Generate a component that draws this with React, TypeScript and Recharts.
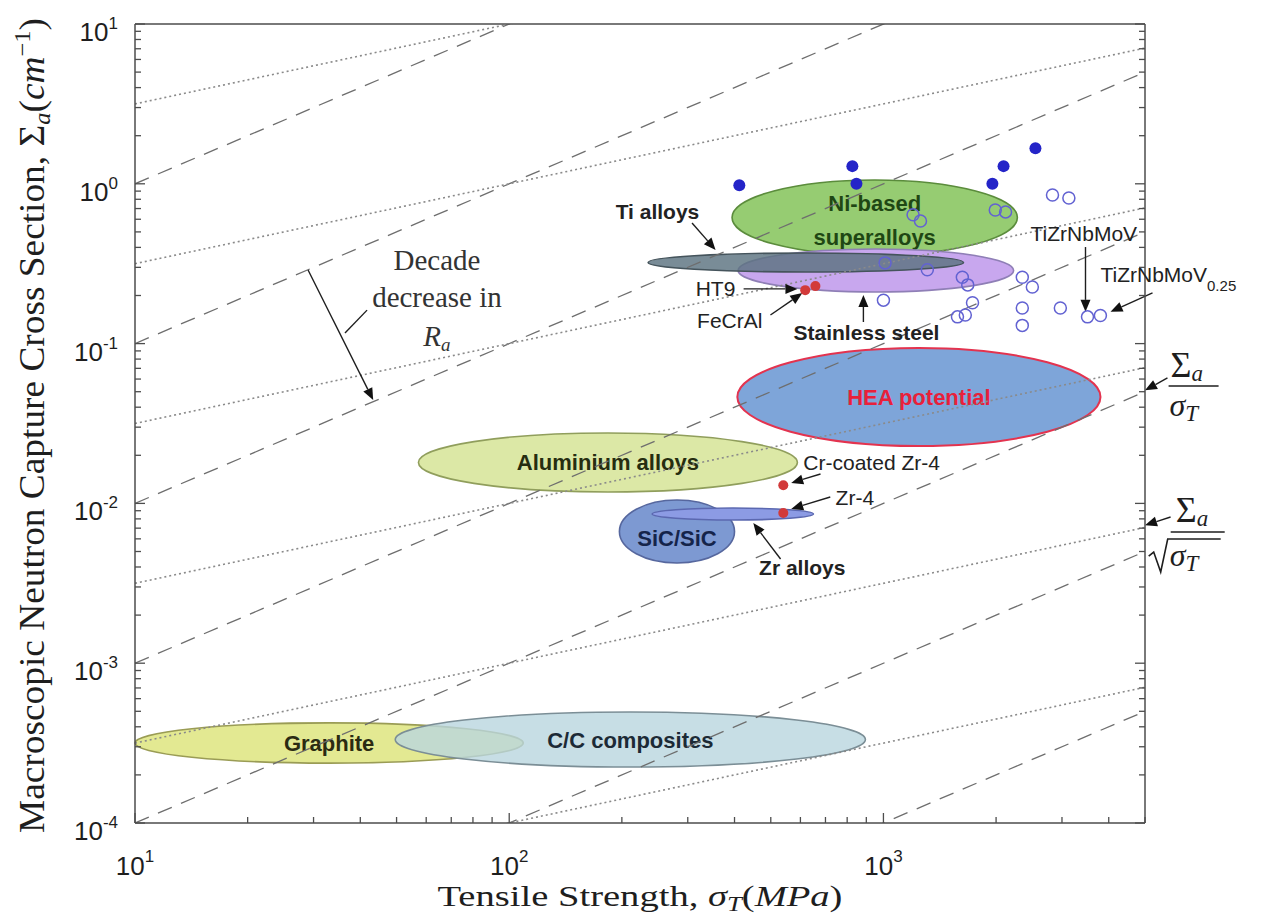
import React from 'react';
import { ComposedChart, Scatter, XAxis, YAxis, ReferenceLine, ReferenceArea, ReferenceDot } from 'recharts';

// ---- data (data units) ----
const filledPoints = [
  { x: 412, y: 0.98 }, { x: 826, y: 1.29 }, { x: 847, y: 1.0 },
  { x: 1955, y: 1.0 }, { x: 2094, y: 1.29 }, { x: 2548, y: 1.67 },
];

const openPoints = [
  { x: 2830, y: 0.85 }, { x: 3130, y: 0.815 }, { x: 1200, y: 0.64 }, { x: 1256, y: 0.585 },
  { x: 1990, y: 0.686 }, { x: 2120, y: 0.667 }, { x: 1010, y: 0.32 }, { x: 1310, y: 0.29 },
  { x: 1625, y: 0.26 }, { x: 1680, y: 0.233 }, { x: 2350, y: 0.26 }, { x: 2500, y: 0.226 },
  { x: 1000, y: 0.187 }, { x: 1730, y: 0.18 }, { x: 1655, y: 0.151 }, { x: 1577, y: 0.147 },
  { x: 2350, y: 0.167 }, { x: 2350, y: 0.13 }, { x: 2970, y: 0.167 }, { x: 3510, y: 0.147 },
  { x: 3800, y: 0.15 },
];

const redPoints = [
  { x: 618, y: 0.216 }, { x: 658, y: 0.229 }, { x: 540, y: 0.013 }, { x: 540, y: 0.0087 },
];

const regions = [
  { name: 'Graphite', x: [10, 109], y: [2.37e-4, 4.23e-4] },
  { name: 'C/C composites', x: [49.6, 895], y: [2.24e-4, 4.95e-4] },
  { name: 'Aluminium alloys', x: [57.2, 589], y: [0.01178, 0.0276] },
  { name: 'SiC/SiC', x: [197, 400], y: [0.00424, 0.0105] },
  { name: 'Zr alloys', x: [241, 650], y: [0.00787, 0.00935] },
  { name: 'HEA potential', x: [407, 3802], y: [0.02286, 0.0939] },
  { name: 'Ni-based superalloys', x: [394, 2280], y: [0.358, 1.057] },
  { name: 'Stainless steel', x: [409, 2228], y: [0.2105, 0.391] },
  { name: 'Ti alloys', x: [235, 1637], y: [0.2805, 0.369] },
];

// constant Σa/σT (dashed) and Σa/√σT (dotted) levels
const ratioLevels = [0.1, 0.01, 1e-3, 1e-4, 1e-5, 1e-6, 1e-7];
const rootLevels = [1, 0.1, 0.01, 1e-3, 1e-4, 1e-5];

const notes = [
  { text: 'Ti alloys', x: 249, y: 0.602, anchor: 'middle', bold: true },
  { text: 'HT9', x: 402, y: 0.1986, anchor: 'end', bold: false },
  { text: 'FeCrAl', x: 475, y: 0.1253, anchor: 'end', bold: false },
  { text: 'Stainless steel', x: 901, y: 0.1053, anchor: 'middle', bold: true },
  { text: 'TiZrNbMoV', x: 2472, y: 0.4386, anchor: 'start', bold: false },
  { text: 'TiZrNbMoV', sub: '0.25', x: 3802, y: 0.2429, anchor: 'start', bold: false },
  { text: 'Cr-coated Zr-4', x: 611, y: 0.01618, anchor: 'start', bold: false },
  { text: 'Zr-4', x: 745, y: 0.00977, anchor: 'start', bold: false },
  { text: 'Zr alloys', x: 607, y: 0.00356, anchor: 'middle', bold: true },
];

const arrows = [
  { from: [308, 0.569], to: [356, 0.3855] },
  { from: [423, 0.22], to: [589, 0.22] },
  { from: [499, 0.151], to: [607, 0.2074] },
  { from: [884, 0.1365], to: [884, 0.2014] },
  { from: [3467, 0.402], to: [3467, 0.158] },
  { from: [5237, 0.2074], to: [4045, 0.158] },
  { from: [679, 0.01528], to: [567, 0.01343] },
  { from: [721, 0.01097], to: [567, 0.00923] },
  { from: [531, 0.00449], to: [449, 0.00753] },
  { from: [29.0, 0.289], to: [43.3, 0.0443] },
  { from: [5741, 0.061], to: [5000, 0.051] },
  { from: [5852, 0.00822], to: [5000, 0.0073] },
];
const connectors = [{ from: [36.4, 0.1164], to: [41.7, 0.162] }];

const decadeNote = { x: 64.1, y: 0.289 };
const ratioLabel = { x: 5781, y: 0.0543 };
const rootLabel = { x: 5929, y: 0.00662 };

const mult = [1, 2, 3, 4, 5, 6, 7, 8, 9];
const xTicks = [...[1, 2].flatMap((e) => mult.map((m) => m * 10 ** e)), 1000, 2000, 3000, 4000, 5000];
const yTicks = [...[-4, -3, -2, -1, 0].flatMap((e) => mult.map((m) => m * 10 ** e)), 10];

// ---- styles ----
const SANS = '"Liberation Sans", Arial, Helvetica, sans-serif';
const SERIF = '"Liberation Serif", "Times New Roman", serif';
const AXIS = '#4d4d4d';
const INK = '#1e1e1e';

const regionStyle: Record<string, any> = {
  'Graphite': { fill: '#e2e88c', stroke: '#9a9c55', op: 0.95, lines: ['Graphite'], color: '#2b2b12' },
  'C/C composites': { fill: '#b9d6df', stroke: '#7b8e96', op: 0.8, lines: ['C/C composites'], color: '#1c2a36' },
  'Aluminium alloys': { fill: '#dce8a6', stroke: '#909e5c', op: 1, lines: ['Aluminium alloys'], color: '#262d10' },
  'SiC/SiC': { fill: '#7d99d2', stroke: '#56679e', op: 1, lines: ['SiC/SiC'], color: '#15244a', dy: 7 },
  'Zr alloys': { fill: '#8c9be4', stroke: '#5b68b0', op: 1, lines: [] },
  'HEA potential': { fill: '#7ea5d9', stroke: '#e3334f', op: 1, lines: ['HEA potential'], color: '#e8203a', sw: 2 },
  'Ni-based superalloys': { fill: '#96cc72', stroke: '#5b8c3c', op: 1, lines: ['Ni-based', 'superalloys'], color: '#1f4714', dy: 2 },
  'Stainless steel': { fill: '#c8a7ee', stroke: '#8f7fb6', op: 1, lines: [] },
  'Ti alloys': { fill: '#5c7380', stroke: '#45545c', op: 0.82, lines: [] },
};

const isMajor = (v: number) => Math.abs(Math.log10(v) - Math.round(Math.log10(v))) < 1e-6;
const expo = (v: number) => String(Math.round(Math.log10(v)));

const BottomTick = (p: any) => {
  const v = p.payload.value;
  const major = isMajor(v);
  return (
    <g>
      <line x1={p.x} x2={p.x} y1={p.y} y2={p.y - (major ? 10 : 6)} stroke={AXIS} strokeWidth={1.3} />
      {major && (
        <text x={p.x} y={p.y + 52} textAnchor="middle" fontFamily={SANS} fontSize={26} fill={INK}>
          10<tspan dy={-13} fontSize={17}>{expo(v)}</tspan>
        </text>
      )}
    </g>
  );
};

const TopTick = (p: any) => {
  const major = isMajor(p.payload.value);
  return <line x1={p.x} x2={p.x} y1={p.y} y2={p.y + (major ? 10 : 6)} stroke={AXIS} strokeWidth={1.3} />;
};

const LeftTick = (p: any) => {
  const v = p.payload.value;
  const major = isMajor(v);
  return (
    <g>
      <line x1={p.x} x2={p.x + (major ? 10 : 6)} y1={p.y} y2={p.y} stroke={AXIS} strokeWidth={1.3} />
      {major && (
        <text x={p.x - 17} y={p.y + 17} textAnchor="end" fontFamily={SANS} fontSize={26} fill={INK}>
          10<tspan dy={-12} fontSize={17}>{expo(v)}</tspan>
        </text>
      )}
    </g>
  );
};

const RightTick = (p: any) => {
  const major = isMajor(p.payload.value);
  return <line x1={p.x} x2={p.x - (major ? 10 : 6)} y1={p.y} y2={p.y} stroke={AXIS} strokeWidth={1.3} />;
};

const XTitle = (p: any) => {
  const vb = p.viewBox;
  return (
    <text x={vb.x + vb.width / 2} y={vb.y + 83} textAnchor="middle" fontFamily={SERIF} fontSize={29} fill={INK}
      textLength={405} lengthAdjust="spacingAndGlyphs">
      Tensile Strength, <tspan fontStyle="italic">σ</tspan>
      <tspan fontStyle="italic" fontSize={20} dy={5}>T</tspan>
      <tspan dy={-5}>(</tspan>
      <tspan fontStyle="italic">MPa</tspan>)
    </text>
  );
};

const YTitle = (p: any) => {
  const vb = p.viewBox;
  const cx = 44;
  const cy = vb.y + vb.height / 2 + 2;
  return (
    <text x={cx} y={cy} transform={`rotate(-90 ${cx} ${cy})`} textAnchor="middle" fontFamily={SERIF} fontSize={35} fill={INK}
      textLength={815} lengthAdjust="spacingAndGlyphs">
      Macroscopic Neutron Capture Cross Section, Σ
      <tspan fontStyle="italic" fontSize={23} dy={6}>a</tspan>
      <tspan dy={-6}>(</tspan>
      <tspan fontStyle="italic">cm</tspan>
      <tspan fontSize={23} dy={-14}>−1</tspan>
      <tspan dy={14}>)</tspan>
    </text>
  );
};

const ellipseShape = (name: string) => (p: any) => {
  const s = regionStyle[name];
  const cx = p.x + p.width / 2;
  const cy = p.y + p.height / 2;
  const n = s.lines.length;
  return (
    <g>
      <ellipse cx={cx} cy={cy} rx={p.width / 2} ry={p.height / 2} fill={s.fill} fillOpacity={s.op} stroke={s.stroke} strokeWidth={s.sw || 1.6} />
      {s.lines.map((t: string, i: number) => (
        <text key={t} x={cx} y={cy + 8 + (s.dy || 0) + (i - (n - 1) / 2) * 34} textAnchor="middle" fontFamily={SANS}
          fontWeight="bold" fontSize={22} fill={s.color}>
          {t}
        </text>
      ))}
    </g>
  );
};

const arrowShape = (p: any) => {
  const { x1, y1, x2, y2 } = p;
  const a = Math.atan2(y2 - y1, x2 - x1);
  const L = 12;
  const w = 5;
  const bx = x2 - L * Math.cos(a);
  const by = y2 - L * Math.sin(a);
  const nx = -Math.sin(a) * w;
  const ny = Math.cos(a) * w;
  return (
    <g>
      <line x1={x1} y1={y1} x2={bx} y2={by} stroke={INK} strokeWidth={1.4} />
      <polygon points={`${x2},${y2} ${bx + nx},${by + ny} ${bx - nx},${by - ny}`} fill="#111" />
    </g>
  );
};

const plainShape = (p: any) => <line x1={p.x1} y1={p.y1} x2={p.x2} y2={p.y2} stroke={INK} strokeWidth={1.4} />;

const noteShape = (n: any) => (p: any) => (
  <text x={p.cx} y={p.cy} textAnchor={n.anchor} fontFamily={SANS} fontSize={21} fontWeight={n.bold ? 'bold' : 'normal'} fill="#222">
    {n.text}
    {n.sub && <tspan fontSize={15} dy={9}>{n.sub}</tspan>}
  </text>
);

const decadeShape = (p: any) => (
  <text x={p.cx} y={p.cy} textAnchor="middle" fontFamily={SERIF} fontSize={29} fill="#333">
    <tspan x={p.cx}>Decade</tspan>
    <tspan x={p.cx} dy={37}>decrease in</tspan>
    <tspan x={p.cx} dy={39} fontStyle="italic">R</tspan>
    <tspan fontStyle="italic" fontSize={19} dy={5}>a</tspan>
  </text>
);

const ratioShape = (p: any) => {
  const { cx, cy } = p;
  return (
    <g fontFamily={SERIF} fill={INK}>
      <text x={cx + 2} y={cy - 9} fontSize={36}>Σ<tspan fontStyle="italic" fontSize={23} dy={4}>a</tspan></text>
      <line x1={cx} x2={cx + 50} y1={cy} y2={cy} stroke={INK} strokeWidth={1.6} />
      <text x={cx + 1} y={cy + 30} fontSize={32} fontStyle="italic">σ<tspan fontSize={23} dy={5}>T</tspan></text>
    </g>
  );
};

const rootShape = (p: any) => {
  const { cx, cy } = p;
  return (
    <g fontFamily={SERIF} fill={INK}>
      <text x={cx + 3} y={cy - 10} fontSize={36}>Σ<tspan fontStyle="italic" fontSize={23} dy={4}>a</tspan></text>
      <line x1={cx - 2} x2={cx + 52} y1={cy} y2={cy} stroke={INK} strokeWidth={1.6} />
      <path d={`M ${cx - 24} ${cy + 24} L ${cx - 19} ${cy + 20} L ${cx - 12} ${cy + 40} L ${cx - 5} ${cy + 7} L ${cx + 48} ${cy + 7}`}
        fill="none" stroke={INK} strokeWidth={1.6} />
      <text x={cx - 3} y={cy + 34} fontSize={32} fontStyle="italic">σ<tspan fontSize={23} dy={5}>T</tspan></text>
    </g>
  );
};

export default function App() {
  return (
    <div style={{ position: 'absolute', left: 0, top: 0, background: '#fff' }}>
      <ComposedChart width={1268} height={921} margin={{ top: 23, right: 122, bottom: 38, left: 65 }}>
        <XAxis dataKey="x" type="number" scale="log" domain={[10, 5000]} allowDataOverflow ticks={xTicks} interval={0}
          tickLine={false} tickSize={0} tickMargin={0} tick={BottomTick} height={60}
          axisLine={{ stroke: AXIS, strokeWidth: 1.5 }} label={{ content: XTitle }} />
        <XAxis xAxisId="top" orientation="top" type="number" scale="log" domain={[10, 5000]} allowDataOverflow ticks={xTicks}
          interval={0} tickLine={false} tickSize={0} tickMargin={0} tick={TopTick} height={1}
          axisLine={{ stroke: AXIS, strokeWidth: 1.5 }} />
        <YAxis dataKey="y" type="number" scale="log" domain={[1e-4, 10]} allowDataOverflow ticks={yTicks} interval={0}
          tickLine={false} tickSize={0} tickMargin={0} tick={LeftTick} width={70}
          axisLine={{ stroke: AXIS, strokeWidth: 1.5 }} label={{ content: YTitle }} />
        <YAxis yAxisId="right" orientation="right" type="number" scale="log" domain={[1e-4, 10]} allowDataOverflow ticks={yTicks}
          interval={0} tickLine={false} tickSize={0} tickMargin={0} tick={RightTick} width={1}
          axisLine={{ stroke: AXIS, strokeWidth: 1.5 }} />

        {ratioLevels.map((c) => (
          <ReferenceLine key={`r${c}`} segment={[{ x: 10, y: 10 * c }, { x: 5000, y: 5000 * c }]} ifOverflow="hidden"
            stroke="#6e6e6e" strokeWidth={1.3} strokeDasharray="15 10" />
        ))}
        {rootLevels.map((d) => (
          <ReferenceLine key={`s${d}`} segment={[{ x: 10, y: d * Math.sqrt(10) }, { x: 5000, y: d * Math.sqrt(5000) }]}
            ifOverflow="hidden" stroke="#8a8a8a" strokeWidth={1.6} strokeDasharray="2 3" />
        ))}

        {regions.map((r) => (
          <ReferenceArea key={r.name} x1={r.x[0]} x2={r.x[1]} y1={r.y[0]} y2={r.y[1]} ifOverflow="hidden" shape={ellipseShape(r.name)} />
        ))}

        <Scatter data={openPoints} isAnimationActive={false}
          shape={(p: any) => <circle cx={p.cx} cy={p.cy} r={6} fill="none" stroke="#6262d2" strokeWidth={1.5} />} />
        <Scatter data={filledPoints} isAnimationActive={false}
          shape={(p: any) => <circle cx={p.cx} cy={p.cy} r={6} fill="#2424c8" />} />
        <Scatter data={redPoints} isAnimationActive={false}
          shape={(p: any) => <circle cx={p.cx} cy={p.cy} r={5} fill="#d23a3a" />} />

        {arrows.map((a, i) => (
          <ReferenceLine key={`a${i}`} segment={[{ x: a.from[0], y: a.from[1] }, { x: a.to[0], y: a.to[1] }]}
            ifOverflow="visible" shape={arrowShape} />
        ))}
        {connectors.map((a, i) => (
          <ReferenceLine key={`c${i}`} segment={[{ x: a.from[0], y: a.from[1] }, { x: a.to[0], y: a.to[1] }]}
            ifOverflow="visible" shape={plainShape} />
        ))}

        {notes.map((n, i) => (
          <ReferenceDot key={`n${i}`} x={n.x} y={n.y} r={0} ifOverflow="visible" shape={noteShape(n)} />
        ))}
        <ReferenceDot x={decadeNote.x} y={decadeNote.y} r={0} ifOverflow="visible" shape={decadeShape} />
        <ReferenceDot x={ratioLabel.x} y={ratioLabel.y} r={0} ifOverflow="visible" shape={ratioShape} />
        <ReferenceDot x={rootLabel.x} y={rootLabel.y} r={0} ifOverflow="visible" shape={rootShape} />
      </ComposedChart>
    </div>
  );
}
